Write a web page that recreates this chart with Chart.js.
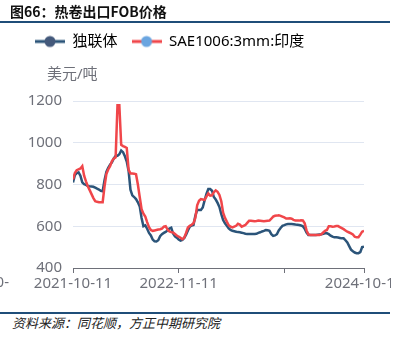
<!DOCTYPE html>
<html lang="zh-CN">
<head>
<meta charset="utf-8">
<title>热卷出口FOB价格</title>
<script src="https://cdn.jsdelivr.net/npm/chart.js@4.4.1/dist/chart.umd.min.js"></script>
<style>
    html, body { margin: 0; padding: 0; background: #ffffff; }
    body {
        width: 402px;
        height: 346px;
        position: relative;
        overflow: hidden;
        font-family: "Noto Sans CJK SC", "Noto Sans", sans-serif;
    }
    .fig-title {
        position: absolute;
        left: 10px;
        top: 2px;
        font-size: 14px;
        line-height: 18px;
        font-weight: bold;
        color: #111111;
    }
    .rule {
        position: absolute;
        left: 0;
        width: 390px;
        height: 1.5px;
        background: #1f4e79;
    }
    .rule.top { top: 21px; }
    .rule.bottom { top: 312px; }
    .chart-box {
        position: absolute;
        left: 0;
        top: 20px;
        width: 391px;
        height: 292px;
    }
    .source {
        position: absolute;
        left: 12px;
        top: 314px;
        font-size: 13px;
        line-height: 18px;
        font-style: italic;
        color: #222222;
    }
</style>
</head>
<body>
<div class="chart-box"><canvas id="fobChart" width="391" height="292"></canvas></div>
<div class="fig-title">图66：热卷出口FOB价格</div>
<div class="rule top"></div>
<div class="rule bottom"></div>
<div class="source">资料来源：同花顺，方正中期研究院</div>

<script>
// weekly prices, USD/t
const seriesNames = ['独联体', 'SAE1006:3mm:印度'];

const cisValues = [
    810, 845, 854, 858, 842, 810, 802, 798, 793, 791,
    790, 789, 785, 780, 776, 770, 768, 820, 860, 880,
    895, 906, 925, 937, 938, 945, 963, 955, 935, 910,
    865, 775, 748, 740, 730, 715, 695, 640, 600, 604,
    588, 568, 556, 536, 528, 527, 533, 552, 562, 568,
    573, 580, 589, 593, 565, 552, 545, 536, 531, 534,
    544, 560, 580, 598, 604, 606, 650, 678, 678, 678,
    690, 724, 755, 778, 778, 770, 740, 728, 712, 692,
    658, 630, 614, 602, 590, 582, 578, 576, 574, 572,
    571, 569, 567, 564, 563, 563, 563, 563, 563, 564,
    568, 571, 575, 578, 582, 581, 578, 562, 554, 556,
    562, 580, 592, 602, 605, 609, 611, 611, 611, 610,
    608, 607, 606, 604, 600, 588, 570, 558, 558, 558,
    558, 558, 559, 560, 561, 564, 566, 566, 562, 555,
    550, 547, 547, 546, 544, 542, 542, 533, 522, 505,
    488, 480, 474, 471, 471, 476, 500, 502
];

const indiaValues = [
    824, 855, 868, 873, 877, 888, 842, 815, 792, 773,
    754, 735, 720, 717, 715, 715, 715, 790, 850, 872,
    888, 912, 924, 930, 1180, 1180, 990, 984, 980, 975,
    870, 853, 853, 852, 849, 800, 740, 682, 660, 646,
    620, 596, 582, 578, 580, 582, 584, 586, 589, 598,
    600, 584, 575, 572, 570, 563, 556, 550, 545, 538,
    545, 568, 594, 602, 607, 614, 640, 700, 722, 730,
    728, 726, 742, 757, 747, 748, 763, 772, 765, 750,
    720, 665, 640, 622, 605, 598, 594, 598, 602, 612,
    608, 598, 602, 606, 616, 626, 626, 625, 624, 625,
    627, 626, 625, 624, 625, 626, 627, 636, 646, 650,
    651, 653, 650, 646, 642, 637, 637, 638, 636, 631,
    627, 627, 627, 629, 628, 614, 580, 561, 558, 558,
    558, 558, 558, 558, 562, 570, 578, 582, 600, 600,
    598, 599, 601, 601, 596, 591, 586, 580, 574, 570,
    566, 561, 550, 547, 547, 560, 574, 578
];

const xTickIndex = [0, 57, 114, 157];
const xTickLabels = ['2021-10-11', '2022-11-11', '', '2024-10-11'];
const yTicks = [400, 600, 800, 1000, 1200];
const unitLabel = '美元/吨';

const FONT = '"Noto Sans", "Noto Sans CJK SC", sans-serif';
const AXIS_COLOR = '#6E7079';

class FobPriceChart {
    constructor() {
        this.lineColors = ['#2b5479', '#f0464a'];
        this.dotColors = ['#44597b', '#6aa5e0'];
        this.icons = this.buildLegendIcons();
        this.createChart();
    }

    buildLegendIcons() {
        return this.lineColors.map((lineColor, i) => {
            const c = document.createElement('canvas');
            c.width = 30;
            c.height = 14;
            const g = c.getContext('2d');
            g.strokeStyle = lineColor;
            g.lineWidth = 3;
            g.beginPath();
            g.moveTo(0, 7);
            g.lineTo(30, 7);
            g.stroke();
            g.fillStyle = this.dotColors[i];
            g.beginPath();
            g.arc(15, 7, 5.5, 0, Math.PI * 2);
            g.fill();
            return c;
        });
    }

    // a layout box between the legend and the plot that carries the unit text
    unitBoxPlugin() {
        return {
            id: 'unitBox',
            beforeInit(chart) {
                const box = {
                    options: {},
                    position: 'top',
                    weight: 500,
                    fullSize: true,
                    width: 0, height: 0, left: 0, top: 0, right: 0, bottom: 0,
                    isHorizontal() { return true; },
                    update(maxWidth) {
                        this.width = maxWidth;
                        this.height = 42;
                    },
                    draw() {
                        const ctx = chart.ctx;
                        ctx.save();
                        ctx.font = '15px ' + FONT;
                        ctx.fillStyle = AXIS_COLOR;
                        ctx.textBaseline = 'middle';
                        ctx.textAlign = 'left';
                        ctx.fillText(unitLabel, chart.chartArea.left - 26, this.bottom - 26);
                        ctx.restore();
                    }
                };
                Chart.layouts.addBox(chart, box);
            }
        };
    }

    createChart() {
        const icons = this.icons;

        const edgeNote = {
            id: 'edgeNote',
            afterDraw(chart) {
                const { ctx, chartArea } = chart;
                // cut-off label from the left edge of the source figure
                ctx.save();
                ctx.font = '15px ' + FONT;
                ctx.fillStyle = AXIS_COLOR;
                ctx.textBaseline = 'middle';
                ctx.textAlign = 'right';
                ctx.fillText('0-', 9, chartArea.bottom + 15);
                ctx.restore();
            }
        };

        const canvas = document.getElementById('fobChart');
        this.chart = new Chart(canvas, {
            type: 'line',
            data: {
                datasets: [
                    {
                        label: seriesNames[0],
                        data: cisValues.map((v, i) => ({ x: i, y: v })),
                        borderColor: this.lineColors[0],
                        borderWidth: 2.5,
                        pointRadius: 0,
                        tension: 0,
                        order: 1
                    },
                    {
                        label: seriesNames[1],
                        data: indiaValues.map((v, i) => ({ x: i, y: v })),
                        borderColor: this.lineColors[1],
                        borderWidth: 2.5,
                        pointRadius: 0,
                        tension: 0,
                        order: 0
                    }
                ]
            },
            options: {
                responsive: false,
                animation: false,
                layout: { padding: { left: 21, right: 27, top: 0, bottom: 0 } },
                plugins: {
                    tooltip: { enabled: false },
                    legend: {
                        position: 'top',
                        align: 'start',
                        labels: {
                            usePointStyle: true,
                            pointStyleWidth: 30,
                            boxHeight: 12,
                            padding: 14,
                            color: '#333333',
                            font: { size: 15, family: FONT },
                            generateLabels: (chart) => chart.data.datasets.map((ds, i) => ({
                                text: ds.label,
                                pointStyle: icons[i],
                                fillStyle: this.dotColors[i],
                                strokeStyle: this.lineColors[i],
                                lineWidth: 0,
                                hidden: false,
                                datasetIndex: i
                            }))
                        }
                    }
                },
                scales: {
                    x: {
                        type: 'linear',
                        min: 0,
                        max: cisValues.length - 1,
                        afterBuildTicks: (scale) => {
                            scale.ticks = xTickIndex.map(v => ({ value: v }));
                        },
                        afterFit: (scale) => {
                            scale.paddingLeft = 0;
                            scale.paddingRight = 0;
                            scale.height = 44;
                        },
                        grid: {
                            drawOnChartArea: false,
                            drawTicks: true,
                            tickLength: 5,
                            color: AXIS_COLOR
                        },
                        border: { display: true, color: AXIS_COLOR, width: 1 },
                        ticks: {
                            autoSkip: false,
                            maxRotation: 0,
                            padding: 2,
                            color: AXIS_COLOR,
                            font: { size: 15, family: FONT },
                            callback: (v) => {
                                const k = xTickIndex.indexOf(v);
                                return k >= 0 ? xTickLabels[k] : '';
                            }
                        }
                    },
                    y: {
                        min: 400,
                        max: 1200,
                        afterBuildTicks: (scale) => {
                            scale.ticks = yTicks.map(v => ({ value: v }));
                        },
                        afterFit: (scale) => {
                            scale.width = 52;
                        },
                        grid: {
                            drawTicks: false,
                            color: (ctx) => ctx.tick && ctx.tick.value === 400 ? 'rgba(0,0,0,0)' : '#E0E6F1'
                        },
                        border: { display: false },
                        ticks: {
                            padding: 11,
                            color: AXIS_COLOR,
                            font: { size: 15, family: FONT },
                            callback: (v) => String(v)
                        }
                    }
                }
            },
            plugins: [this.unitBoxPlugin(), edgeNote]
        });
    }
}

document.addEventListener('DOMContentLoaded', () => {
    new FobPriceChart();
});
</script>
</body>
</html>
